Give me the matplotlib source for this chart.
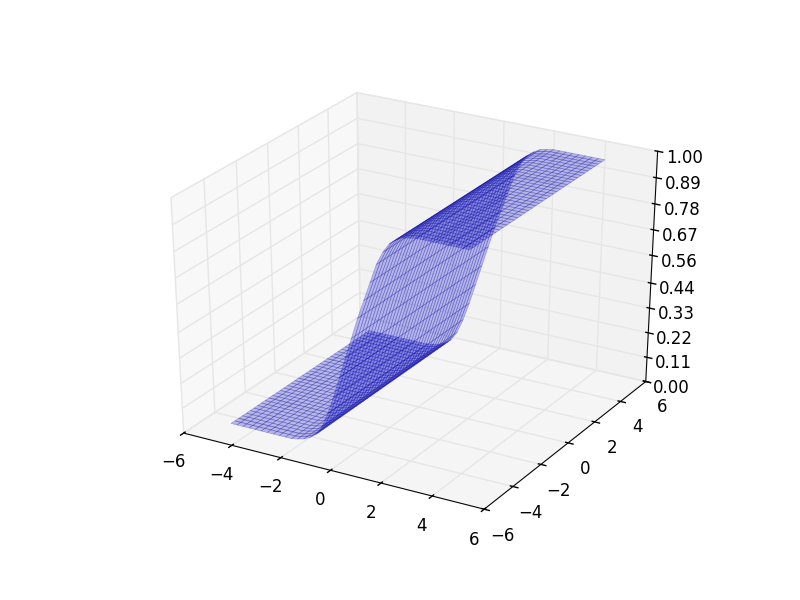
import matplotlib
matplotlib.use('Agg')
import matplotlib.pyplot as plt
import numpy as np
from mpl_toolkits.mplot3d import Axes3D

plt.style.use('classic')

# surface height, one value per x grid position
x_vals = [-5.0, -4.75, -4.5, -4.25, -4.0, -3.75, -3.5, -3.25, -3.0, -2.75, -2.5, -2.25, -2.0,
          -1.75, -1.5, -1.25, -1.0, -0.75, -0.5, -0.25, 0.0, 0.25, 0.5, 0.75, 1.0,
          1.25, 1.5, 1.75, 2.0, 2.25, 2.5, 2.75, 3.0, 3.25, 3.5, 3.75, 4.0, 4.25, 4.5]
z_profile = [0.0, 0.0, 0.0, 0.0, 0.0, 0.0, 0.0, 0.0, 0.0, 0.0, 0.0, 0.005, 0.012,
             0.025, 0.045, 0.085, 0.15, 0.23, 0.32, 0.41, 0.5, 0.59, 0.67, 0.75, 0.83,
             0.885, 0.925, 0.945, 0.96, 0.965, 0.97, 0.97, 0.97, 0.97, 0.97, 0.97, 0.97, 0.97, 0.97]
y_vals = [-4.5, -4.25, -4.0, -3.75, -3.5, -3.25, -3.0, -2.75, -2.5, -2.25, -2.0,
          -1.75, -1.5, -1.25, -1.0, -0.75, -0.5, -0.25, 0.0, 0.25, 0.5, 0.75, 1.0,
          1.25, 1.5, 1.75, 2.0, 2.25, 2.5, 2.75, 3.0, 3.25, 3.5, 3.75, 4.0, 4.25, 4.5, 4.75, 5.0]
xy_ticks = [-6, -4, -2, 0, 2, 4, 6]
z_ticks = [0.00, 0.11, 0.22, 0.33, 0.44, 0.56, 0.67, 0.78, 0.89, 1.00]

X, Y = np.meshgrid(x_vals, y_vals)
Z = np.tile(z_profile, (len(y_vals), 1))

fig = plt.figure(figsize=(8, 6), dpi=100, facecolor='w')
ax = fig.add_subplot(111, projection='3d')
# old style 3d axes: unit cube stretched over the whole subplot box
ax.set_box_aspect((1, 1, 1), zoom=0.941)
ax.apply_aspect = lambda position=None: None
ax.plot_surface(X, Y, Z, rstride=1, cstride=1, color='b', alpha=0.25,
                edgecolor=(0, 0, 0.6, 0.3), linewidth=0.5)

ax.set_xlim(-6, 6)
ax.set_ylim(-6, 6)
ax.set_zlim(0, 1)
ax.set_xticks(xy_ticks)
ax.set_yticks(xy_ticks)
ax.set_zticks(z_ticks)
ax.set_zticklabels(['%.2f' % z for z in z_ticks])

fig.savefig('out.png', dpi=100, facecolor='w')
